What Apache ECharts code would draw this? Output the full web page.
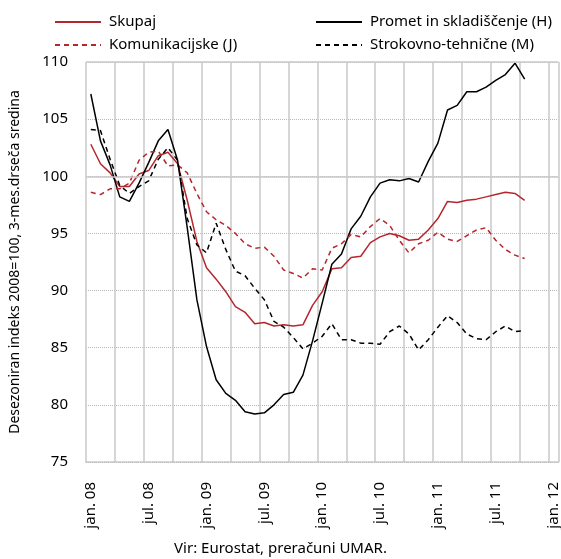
<!DOCTYPE html>
<html>
<head>
<meta charset="utf-8">
<script src="https://cdn.jsdelivr.net/npm/echarts@6/dist/echarts.min.js"></script>
<style>
html,body{margin:0;padding:0;background:#fff;}
#c{width:561px;height:559px;}
</style>
</head>
<body>
<div id="c"></div>
<script>
// Categories: monthly, jan.08 .. jan.12
const categories = [
 'jan. 08','feb. 08','mar. 08','apr. 08','maj. 08','jun. 08','jul. 08','avg. 08','sep. 08','okt. 08','nov. 08','dec. 08',
 'jan. 09','feb. 09','mar. 09','apr. 09','maj. 09','jun. 09','jul. 09','avg. 09','sep. 09','okt. 09','nov. 09','dec. 09',
 'jan. 10','feb. 10','mar. 10','apr. 10','maj. 10','jun. 10','jul. 10','avg. 10','sep. 10','okt. 10','nov. 10','dec. 10',
 'jan. 11','feb. 11','mar. 11','apr. 11','maj. 11','jun. 11','jul. 11','avg. 11','sep. 11','okt. 11','nov. 11','dec. 11',
 'jan. 12'
];
const yTicks = [75, 80, 85, 90, 95, 100, 105, 110];

const skupaj = [
 102.8,101.1,100.3,99.1,99.1,100.2,100.5,101.8,102.1,101.1,97.9,94.3,
 92.0,91.0,89.9,88.6,88.1,87.1,87.2,86.9,87.0,86.9,87.0,88.7,
 89.9,91.9,92.0,92.9,93.0,94.2,94.7,95.0,94.8,94.4,94.5,95.3,
 96.3,97.8,97.7,97.9,98.0,98.2,98.4,98.6,98.5,97.9
];
const promet = [
 107.2,103.1,101.0,98.2,97.8,99.4,101.2,103.1,104.1,101.4,95.5,89.2,
 85.1,82.2,81.0,80.4,79.4,79.2,79.3,80.0,80.9,81.1,82.6,85.6,
 88.9,92.3,93.2,95.4,96.5,98.2,99.4,99.7,99.6,99.8,99.5,101.3,
 102.9,105.8,106.2,107.4,107.4,107.8,108.4,108.9,109.9,108.5
];
const komunikacijske = [
 98.6,98.4,98.9,98.9,99.4,101.4,102.1,102.2,100.9,101.0,100.3,98.5,
 96.9,96.2,95.7,95.0,94.1,93.7,93.8,93.0,91.8,91.5,91.1,91.9,
 91.8,93.7,94.1,94.9,94.7,95.6,96.3,95.7,94.4,93.3,94.1,94.4,
 95.1,94.5,94.3,94.8,95.3,95.5,94.4,93.6,93.1,92.8
];
const strokovno = [
 104.1,104.0,101.5,99.2,98.5,99.1,99.6,101.5,102.5,101.4,96.3,94.0,
 93.3,95.9,93.6,91.7,91.3,90.2,89.2,87.3,86.8,85.9,84.9,85.4,
 86.0,87.1,85.7,85.7,85.4,85.4,85.3,86.4,86.9,86.2,84.8,85.7,
 86.8,87.8,87.2,86.2,85.8,85.7,86.4,86.9,86.4,86.5
];

const RED = '#b5272d';
const FONT = 'Noto Sans';
const chart = echarts.init(document.getElementById('c'), null, {renderer:'canvas'});

const lineSeries = (name, data, color, type) => ({
  name, type:'line', data, symbol:'none', smooth:false,
  lineStyle:{color, width:1.5, type}, itemStyle:{color},
  emphasis:{disabled:true}, z: 3
});

const sk = lineSeries('Skupaj', skupaj, RED, 'solid');
sk.markLine = {
  silent:true, symbol:'none', label:{show:false},
  lineStyle:{color:'#c8c8c8', type:'solid', width:1.5},
  data:[{yAxis:100},{yAxis:110}]
};

const legendBase = {
  orient:'vertical', top:13, padding:0,
  itemWidth:46, itemHeight:10, itemGap:5, selectedMode:false,
  itemStyle:{opacity:0},
  textStyle:{fontFamily:FONT, fontSize:15, color:'#000', lineHeight:18, padding:[0,0,0,3]}
};

chart.setOption({
  animation:false,
  textStyle:{fontFamily:FONT},
  grid:{left:79, right:2, top:62, bottom:97, containLabel:false},
  legend:[
    Object.assign({}, legendBase, {data:['Skupaj','Komunikacijske (J)'], left:54}),
    Object.assign({}, legendBase, {data:['Promet in skladiščenje (H)','Strokovno-tehnične (M)'], left:315})
  ],
  xAxis:{
    type:'category', data:categories, boundaryGap:true,
    axisTick:{show:false},
    axisLine:{show:true, lineStyle:{color:'#c0c0c0', type:'dotted', width:1.5}},
    axisLabel:{rotate:90, interval:(i)=>i%6===0, margin:20, fontFamily:FONT, fontSize:15, color:'#000'},
    splitLine:{show:true, interval:(i)=>i%3===0, lineStyle:{color:'#c8c8c8', width:1.5}}
  },
  yAxis:{
    type:'value', min:yTicks[0], max:yTicks[yTicks.length-1], interval:5,
    axisLine:{show:false}, axisTick:{show:false},
    axisLabel:{margin:18, fontFamily:FONT, fontSize:15, color:'#000'},
    splitLine:{show:true, lineStyle:{color:'#b8b8b8', type:'dotted', width:1}},
    name:'Desezoniran indeks 2008=100, 3-mes.drseča sredina',
    nameLocation:'middle', nameRotate:90, nameGap:64,
    nameTextStyle:{fontFamily:FONT, fontSize:14, color:'#000'}
  },
  series:[
    sk,
    lineSeries('Promet in skladiščenje (H)', promet, '#000', 'solid'),
    lineSeries('Komunikacijske (J)', komunikacijske, RED, [5,4]),
    lineSeries('Strokovno-tehnične (M)', strokovno, '#000', [5,4])
  ],
  graphic:[
    {type:'text', left:'center', top:541,
     style:{text:'Vir: Eurostat, preračuni UMAR.', fontFamily:FONT, fontSize:15, fill:'#000'}}
  ]
});
</script>
</body>
</html>
